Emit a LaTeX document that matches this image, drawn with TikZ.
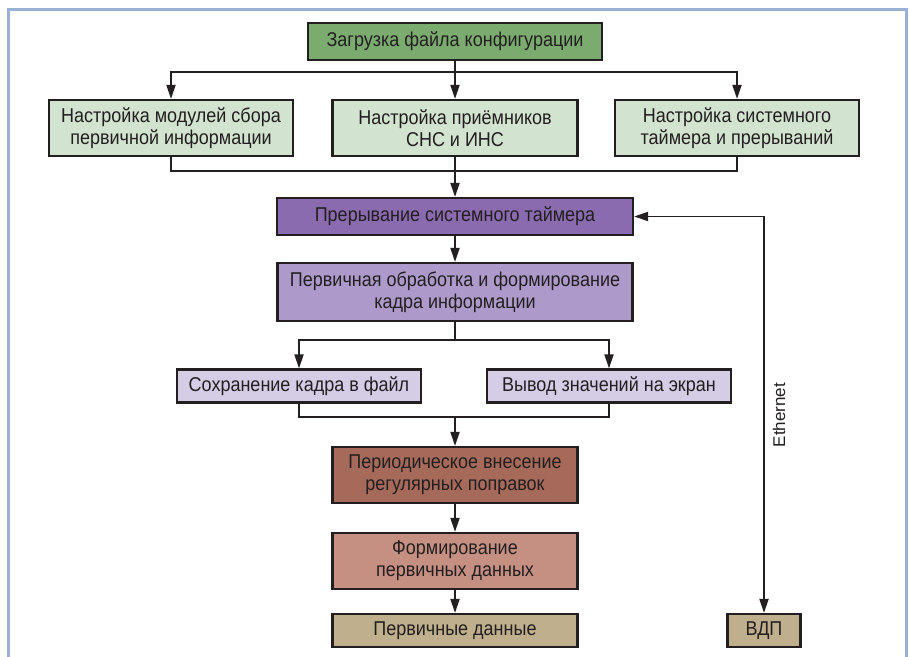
\documentclass[tikz,border=0pt]{standalone}
\usepackage{fontspec}
\setmainfont{Liberation Sans}
\newfontfamily\condfont{Liberation Sans}[FakeStretch=0.9]
\usepackage{xcolor}
\usetikzlibrary{arrows.meta,positioning}
\definecolor{frameblue}{HTML}{9AB0D6}
\definecolor{loadgreen}{HTML}{7BAB6F}
\definecolor{palegreen}{HTML}{D2E3CF}
\definecolor{timerpurple}{HTML}{8A6BAF}
\definecolor{procpurple}{HTML}{AD9ACB}
\definecolor{palelilac}{HTML}{D5CCE5}
\definecolor{corrbrown}{HTML}{A66A5B}
\definecolor{formrose}{HTML}{C58F82}
\definecolor{datatan}{HTML}{BFAF8C}
\definecolor{inkline}{HTML}{231F20}
\tikzset{
  box/.style={draw=inkline, line width=2.2pt, align=center, text=inkline, inner sep=0pt,
    font=\condfont\fontsize{20}{22}\selectfont},
  flow/.style={draw=inkline, line width=1.9pt, -{Triangle[length=14pt,width=9pt]}},
  bus/.style={draw=inkline, line width=1.9pt}
}

\begin{document}
\begin{tikzpicture}[x=1pt,y=-1pt]
      \useasboundingbox (0,0) rectangle (909,656);
      \draw[frameblue, line width=3pt] (8,660) -- (8,9) -- (906,9) -- (906,660);
      \node[box, fill=loadgreen, minimum width=294pt, minimum height=37pt] (load) at (455,41.5) {Загрузка файла конфигурации};
      \node[box, fill=palegreen, minimum width=244pt, minimum height=56pt] (modL) at (171,128) {Настройка модулей сбора\\первичной информации};
      \node[box, fill=palegreen, minimum width=245pt, minimum height=56pt] (modM) at (455,128) {Настройка приёмников\\СНС и ИНС};
      \node[box, fill=palegreen, minimum width=244pt, minimum height=56pt] (modR) at (737,128) {Настройка системного\\таймера и прерываний};
      \node[box, fill=timerpurple, minimum width=356pt, minimum height=37pt] (timer) at (455,216.5) {Прерывание системного таймера};
      \node[box, fill=procpurple, minimum width=355pt, minimum height=58pt] (proc) at (455,292) {Первичная обработка и формирование\\кадра информации};
      \node[box, fill=palelilac, minimum width=244pt, minimum height=33pt] (save) at (299,386) {Сохранение кадра в файл};
      \node[box, fill=palelilac, minimum width=244pt, minimum height=33pt] (show) at (609,386) {Вывод значений на экран};
      \node[box, fill=corrbrown, minimum width=245pt, minimum height=56pt] (corr) at (455,475) {Периодическое внесение\\регулярных поправок};
      \node[box, fill=formrose, minimum width=245pt, minimum height=56pt] (form) at (455,561) {Формирование\\первичных данных};
      \node[box, fill=datatan, minimum width=245pt, minimum height=33pt] (data) at (455,630.5) {Первичные данные};
      \node[box, fill=datatan, minimum width=73pt, minimum height=33pt] (vdp) at (764,630.5) {ВДП};
      \node[text=inkline, rotate=90, font=\fontsize{17}{19}\selectfont] (eth) at (779,415) {Ethernet};
      \coordinate (topbus) at (455,72);
      \coordinate (midbus) at (455,171);
      \coordinate (splitbus) at (455,340);
      \coordinate (mergebus) at (455,417);
      \draw[bus] (load.south) -- (topbus);
      \draw[flow] (topbus) -| (modL.north);
      \draw[flow] (topbus) -| (modR.north);
      \draw[flow] (topbus) -- (modM.north);
      \draw[bus] (modL.south) |- (midbus) -| (modR.south);
      \draw[flow] (modM.south) -- (timer.north);
      \draw[flow] (timer.south) -- (proc.north);
      \draw[bus] (proc.south) -- (splitbus);
      \draw[flow] (splitbus) -| (save.north);
      \draw[flow] (splitbus) -| (show.north);
      \draw[bus] (save.south) |- (mergebus) -| (show.south);
      \draw[flow] (mergebus) -- (corr.north);
      \draw[flow] (corr.south) -- (form.north);
      \draw[flow] (form.south) -- (data.north);
      \draw[flow, {Triangle[length=14pt,width=9pt]}-{Triangle[length=14pt,width=9pt]}] (timer.east) -| (vdp.north);
\end{tikzpicture}
\end{document}
